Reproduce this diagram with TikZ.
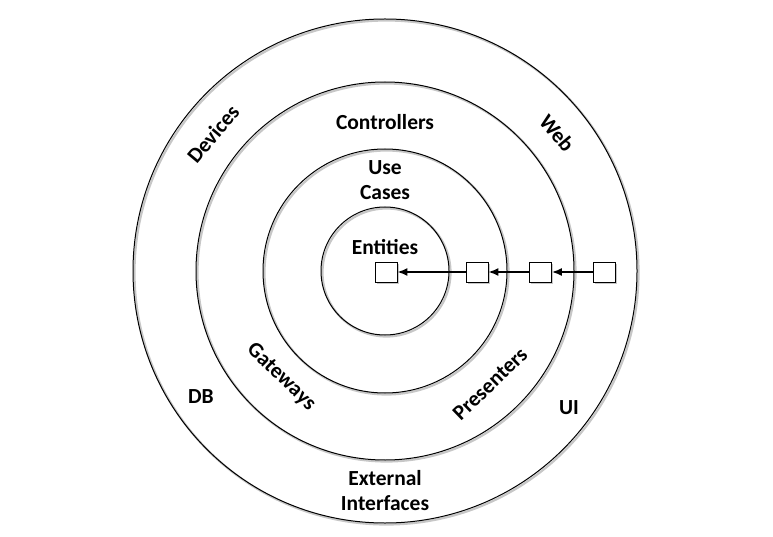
\documentclass[tikz,border=0pt]{standalone}
\usepackage{fontspec}
\setmainfont{Carlito}
\usetikzlibrary{arrows.meta}
\begin{document}
\begin{tikzpicture}[x=1pt,y=-1pt,
  ring/.style={circle, draw=black, line width=1pt, inner sep=0pt, minimum size=#1},
  ringshadow/.style={circle, draw=black!22, line width=2.2pt, inner sep=0pt, minimum size=#1},
  lbl/.style={font=\bfseries\fontsize{21.5}{25}\selectfont, align=center, inner sep=0pt},
  port/.style={draw=black, fill=white, line width=0.8pt, minimum width=22pt, minimum height=20pt, inner sep=0pt},
  portshadow/.style={fill=black!22, minimum width=22pt, minimum height=20pt, inner sep=0pt},
  flow/.style={-{Latex[length=10pt,width=8pt]}, line width=1.6pt}]
\useasboundingbox (0,0) rectangle (773,537);
\coordinate (c) at (385,271);
% soft shadows under the rings
\foreach \d in {504,378,244,128}
  \node[ringshadow=\d] at (386.5,272.5) {};
% the four rings
\node[ring=504pt] (outer) at (c) {};
\node[ring=378pt] (adapters) at (c) {};
\node[ring=244pt] (usecases) at (c) {};
\node[ring=128pt] (entities) at (c) {};
% ring labels
\node[lbl, rotate=50] (devices) at (213,134) {Devices};
\node[lbl, rotate=-50] (web) at (557,133) {Web};
\node[lbl] (db) at (201,397) {DB};
\node[lbl] (ui) at (569,408) {UI};
\node[lbl] (ext) at (385,491) {External\\Interfaces};
\node[lbl] (ctrl) at (385,122) {Controllers};
\node[lbl, rotate=-44] (gw) at (281,377) {Gateways};
\node[lbl, rotate=44] (pres) at (490,384) {Presenters};
\node[lbl] (uc) at (385,180) {Use\\Cases};
\node[lbl] (ent) at (385,247) {Entities};
% boundary crossing ports with shadows
\foreach \x/\n in {386/p0,477/p1,540.5/p2,604.5/p3}{
  \node[portshadow] at (\x+1.5,273.5) {};
  \node[port] (\n) at (\x,272) {};
}
% dependency flow pointing inwards
\draw[flow] (p3) -- (p2);
\draw[flow] (p2) -- (p1);
\draw[flow] (p1) -- (p0);
\end{tikzpicture}
\end{document}
